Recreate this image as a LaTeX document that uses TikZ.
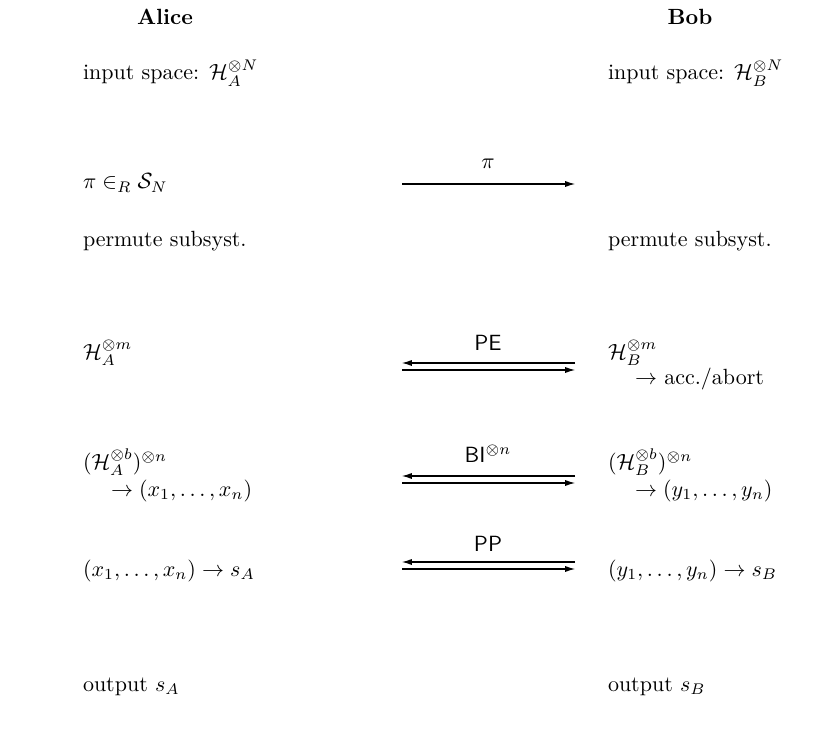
\documentclass[tikz,border=0pt]{standalone}
\usetikzlibrary{arrows.meta}
\begin{document}
\begin{tikzpicture}[x=0.4545pt,y=-0.4545pt,
  txt/.style={anchor=base west,inner sep=0pt,outer sep=0pt},
  hdr/.style={anchor=base,inner sep=0pt,font=\bfseries},
  lbl/.style={anchor=base,inner sep=0pt},
  msg/.style={line width=0.5pt,-{Latex[length=4.5pt,width=2.8pt]}}]
\useasboundingbox (0,0) rectangle (836,747);
% headers
\node[hdr] (alice) at (165,25) {Alice};
\node[hdr] (bob) at (690,25) {Bob};
% Alice column
\node[txt] (a1) at (83,80) {input space: $\mathcal{H}_A^{\otimes N}$};
\node[txt] (a2) at (83,189) {$\pi\in_R\mathcal{S}_N$};
\node[txt] (a3) at (83,247) {permute subsyst.};
\node[txt] (a4) at (83,359) {$\mathcal{H}_A^{\otimes m}$};
\node[txt] (a5) at (83,469) {$(\mathcal{H}_A^{\otimes b})^{\otimes n}$};
\node[txt] (a6) at (111,496) {$\rightarrow(x_1,\ldots,x_n)$};
\node[txt] (a7) at (83,576) {$(x_1,\ldots,x_n)\rightarrow s_A$};
\node[txt] (a8) at (83,691) {output $s_A$};
% Bob column
\node[txt] (b1) at (608,80) {input space: $\mathcal{H}_B^{\otimes N}$};
\node[txt] (b3) at (608,247) {permute subsyst.};
\node[txt] (b4) at (608,359) {$\mathcal{H}_B^{\otimes m}$};
\node[txt] (b4a) at (635,384) {$\rightarrow$ acc./abort};
\node[txt] (b5) at (608,469) {$(\mathcal{H}_B^{\otimes b})^{\otimes n}$};
\node[txt] (b6) at (635,496) {$\rightarrow(y_1,\ldots,y_n)$};
\node[txt] (b7) at (608,576) {$(y_1,\ldots,y_n)\rightarrow s_B$};
\node[txt] (b8) at (608,691) {output $s_B$};
% arrow end points
\coordinate (piL) at (402,184); \coordinate (piR) at (575,184);
\coordinate (peLt) at (402,363); \coordinate (peRt) at (575,363);
\coordinate (peLb) at (402,370); \coordinate (peRb) at (575,370);
\coordinate (biLt) at (402,476); \coordinate (biRt) at (575,476);
\coordinate (biLb) at (402,483); \coordinate (biRb) at (575,483);
\coordinate (ppLt) at (402,562); \coordinate (ppRt) at (575,562);
\coordinate (ppLb) at (402,569); \coordinate (ppRb) at (575,569);
% messages
\draw[msg] (piL) -- (piR);
\node[lbl] (lpi) at (488,169) {$\pi$};
\draw[msg] (peRt) -- (peLt);
\draw[msg] (peLb) -- (peRb);
\node[lbl] (lpe) at (488,350) {\textsf{PE}};
\draw[msg] (biRt) -- (biLt);
\draw[msg] (biLb) -- (biRb);
\node[lbl] (lbi) at (488,462) {\textsf{BI}$^{\otimes n}$};
\draw[msg] (ppRt) -- (ppLt);
\draw[msg] (ppLb) -- (ppRb);
\node[lbl] (lpp) at (488,551) {\textsf{PP}};
\end{tikzpicture}
\end{document}
